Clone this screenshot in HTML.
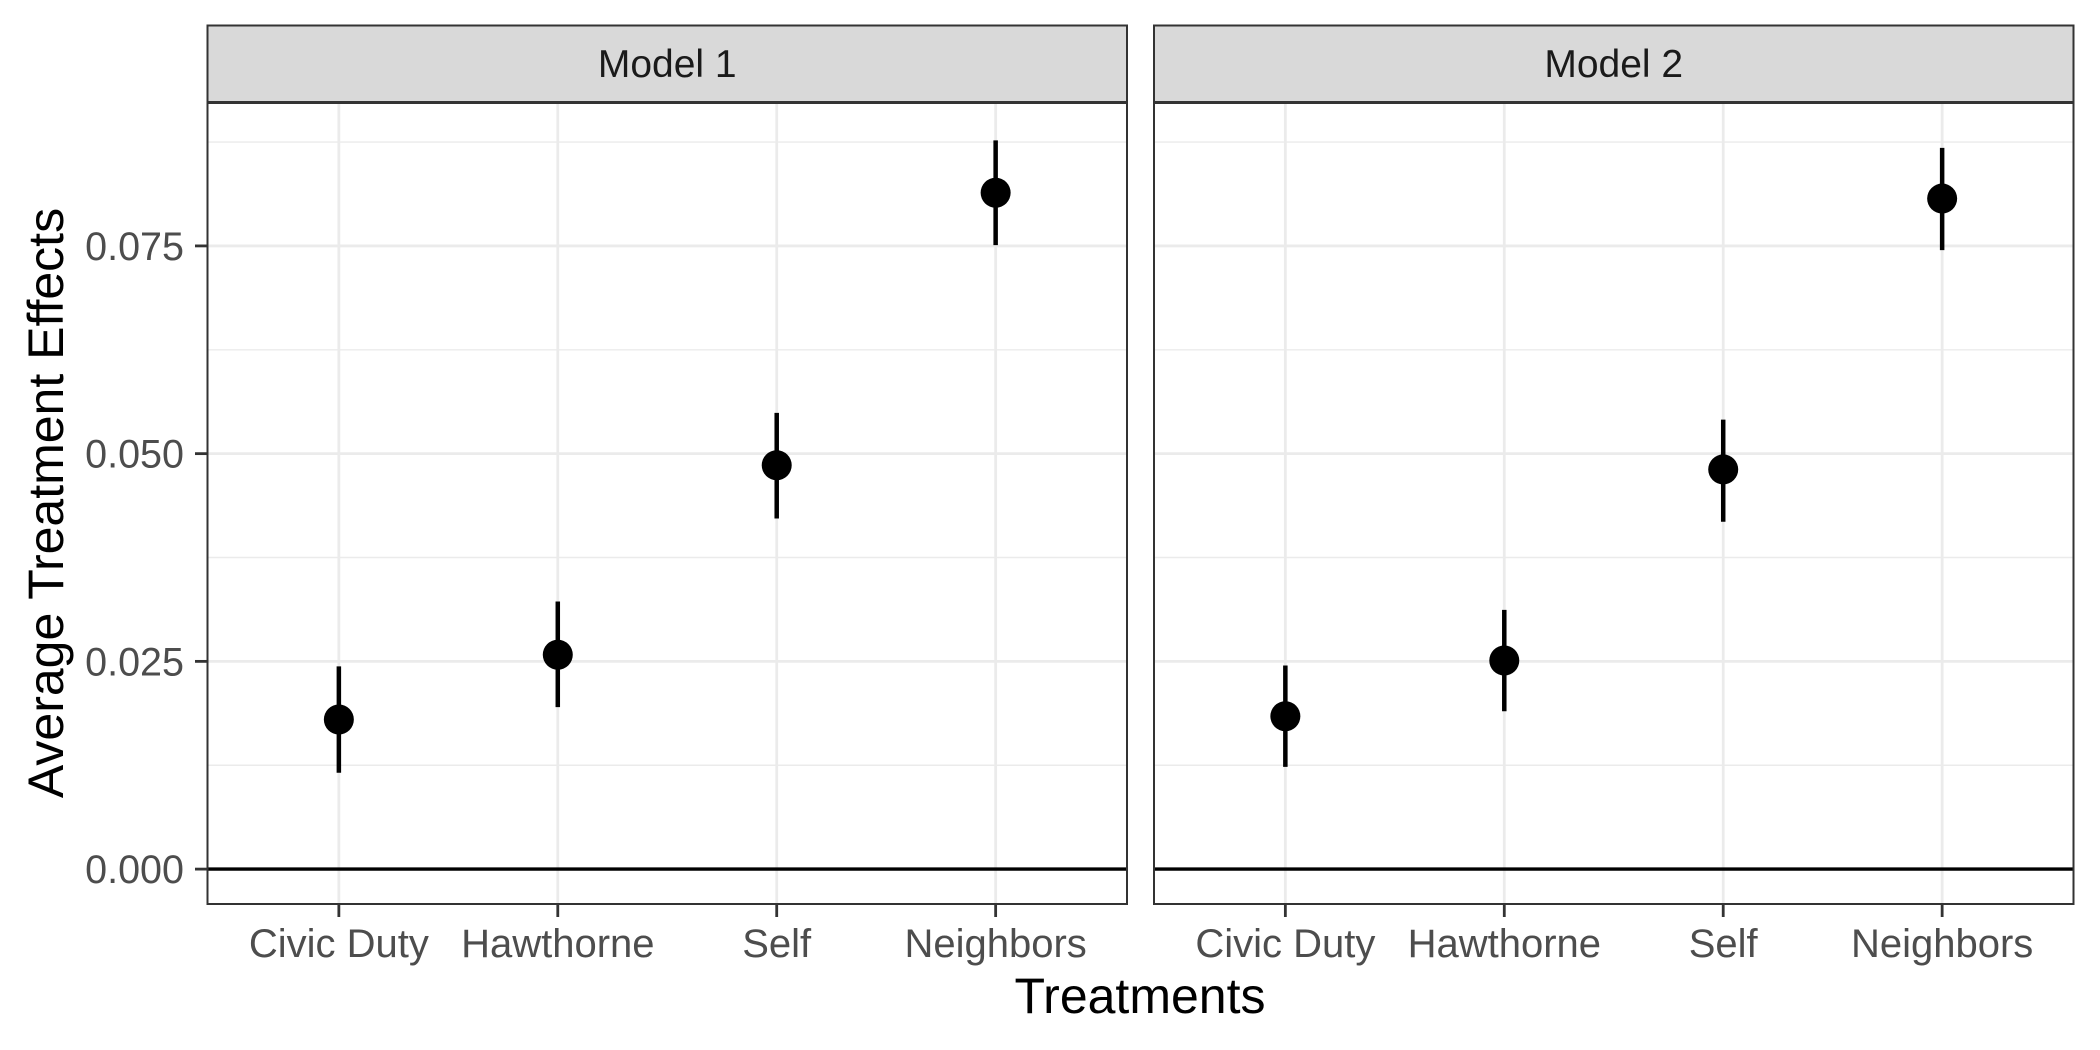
<!DOCTYPE html>
<html><head><meta charset="utf-8"><style>
html,body{margin:0;padding:0;background:#fff;}
svg{display:block;font-family:"Liberation Sans",sans-serif;}
</style></head><body>
<svg id="chart" width="2100" height="1050" viewBox="0 0 2100 1050" xmlns="http://www.w3.org/2000/svg"></svg>
<script>
const categories = ["Civic Duty","Hawthorne","Self","Neighbors"];
const panels = ["Model 1","Model 2"];
const model1Est = [0.0180,0.0258,0.0486,0.0814];
const model1Lo  = [0.0116,0.0195,0.0422,0.0751];
const model1Hi  = [0.0244,0.0322,0.0549,0.0877];
const model2Est = [0.0184,0.0251,0.0481,0.0807];
const model2Lo  = [0.0123,0.0190,0.0418,0.0745];
const model2Hi  = [0.0245,0.0312,0.0541,0.0868];
const yTicks = [0,0.025,0.05,0.075];
const yTickLabels = ["0.000","0.025","0.050","0.075"];
const yMinor = [0.0125,0.0375,0.0625,0.0875];

const NS="http://www.w3.org/2000/svg";
const svg=document.getElementById('chart');
function mk(tag,attrs,parent){const e=document.createElementNS(NS,tag);for(const k in attrs)e.setAttribute(k,attrs[k]);(parent||svg).appendChild(e);return e;}
const panelLeft=[207.5,1154], panelW=919.5, plotTop=103, plotBottom=904;
const yMin=-0.0042, yMax=0.0922;
function yScale(v){return plotBottom-(v-yMin)/(yMax-yMin)*(plotBottom-plotTop);}
function xScale(p,i){const step=panelW/4.2;return panelLeft[p]+(0.6+i)*step;}
const est=[model1Est,model2Est], lo=[model1Lo,model2Lo], hi=[model1Hi,model2Hi];

panels.forEach((name,p)=>{
  const L=panelLeft[p], R=L+panelW;
  const g=mk('g',{});
  
  
  mk('rect',{x:L,y:plotTop,width:panelW,height:plotBottom-plotTop,fill:'#fff'},g);
  yMinor.forEach(v=>{const l=mk('line',{x1:L,x2:R,y1:yScale(v),y2:yScale(v),stroke:'#ebebeb','stroke-width':1.4},g);
    });
  yTicks.forEach(v=>{const l=mk('line',{x1:L,x2:R,y1:yScale(v),y2:yScale(v),stroke:'#ebebeb','stroke-width':2.8},g);
    });
  categories.forEach((c,i)=>{const l=mk('line',{x1:xScale(p,i),x2:xScale(p,i),y1:plotTop,y2:plotBottom,stroke:'#ebebeb','stroke-width':2.8},g);
    });
  const z=mk('line',{x1:L,x2:R,y1:yScale(0),y2:yScale(0),stroke:'#000','stroke-width':3.4},g);
  
  categories.forEach((c,i)=>{
    const eb=mk('line',{x1:xScale(p,i),x2:xScale(p,i),y1:yScale(hi[p][i]),y2:yScale(lo[p][i]),stroke:'#000','stroke-width':4.5},g);
    
    const pt=mk('circle',{cx:xScale(p,i),cy:yScale(est[p][i]),r:15,fill:'#000'},g);
    
    const tk=mk('line',{x1:xScale(p,i),x2:xScale(p,i),y1:plotBottom,y2:plotBottom+13,stroke:'#333','stroke-width':2.8},g);
    
    const t=mk('text',{x:xScale(p,i),y:957,'text-anchor':'middle','font-size':40,fill:'#4d4d4d'},g);
    t.textContent=c;
    
  });
  const b=mk('rect',{x:L,y:plotTop,width:panelW,height:plotBottom-plotTop,fill:'none',stroke:'#333','stroke-width':2},g);
  
  const s=mk('rect',{x:L,y:25.5,width:panelW,height:76.5,fill:'#d9d9d9',stroke:'#333','stroke-width':2},g);
  
  const st=mk('text',{x:L+panelW/2,y:77,'text-anchor':'middle','font-size':39,fill:'#1a1a1a'},g);
  st.textContent=name;
  
});
yTicks.forEach((v,i)=>{
  const tk=mk('line',{x1:195,x2:207.5,y1:yScale(v),y2:yScale(v),stroke:'#333','stroke-width':2.8});
  
  const t=mk('text',{x:184,y:yScale(v)+14,'text-anchor':'end','font-size':39.5,fill:'#4d4d4d'});
  t.textContent=yTickLabels[i];
  
});
const yt=mk('text',{x:0,y:0,'text-anchor':'middle','font-size':50,fill:'#000',transform:'translate(63,503) rotate(-90)'});
yt.textContent='Average Treatment Effects';

const xt=mk('text',{x:1140,y:1013,'text-anchor':'middle','font-size':50,fill:'#000'});
xt.textContent='Treatments';

</script>
</body></html>
